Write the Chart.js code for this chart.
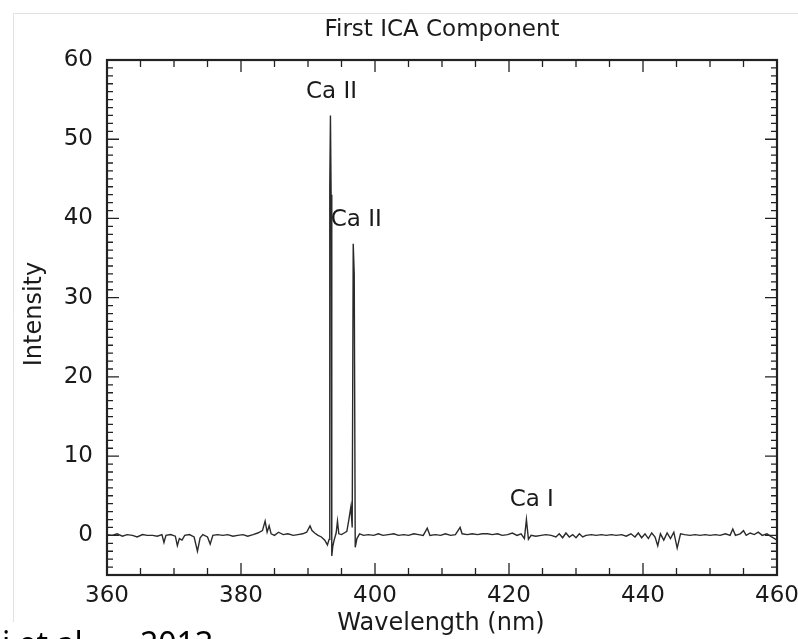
<!DOCTYPE html>
<html>
<head>
<meta charset="utf-8">
<script src="https://cdn.jsdelivr.net/npm/chart.js@4/dist/chart.umd.min.js"></script>
<style>
  html, body { margin: 0; padding: 0; background: #fff; }
  #wrap { width: 798px; height: 639px; }
</style>
</head>
<body>
<div id="wrap"><canvas id="ica"></canvas></div>
<script>
// wavelength (nm) and intensity
const wavelengths = [
  360.0, 360.8, 361.5, 362.3, 363.0, 363.8, 364.5, 365.3, 366.0, 366.8,
  367.5, 368.2, 368.5, 368.8, 369.5, 370.2, 370.5, 370.8, 371.2, 371.6,
  372.3, 373.0, 373.5, 373.9, 374.3, 375.0, 375.4, 375.8, 376.5, 377.3,
  378.0, 378.8, 379.5, 380.3, 381.0, 381.8, 382.5, 383.2, 383.6, 383.9,
  384.2, 384.5, 385.0, 385.6, 386.3, 387.0, 387.8, 388.5, 389.2, 389.8,
  390.3, 390.6, 391.0, 391.5, 392.0, 392.5, 392.9, 393.15, 393.25, 393.35,
  393.45, 393.55, 393.7, 393.9, 394.2, 394.4, 394.6, 395.0, 395.4, 395.8,
  396.1, 396.4, 396.6, 396.75, 396.9, 397.05, 397.3, 397.7, 398.3, 399.0,
  399.8, 400.5, 401.2, 402.0, 402.8, 403.5, 404.3, 405.0, 405.8, 406.5,
  407.2, 407.8, 408.2, 409.0, 409.8, 410.5, 411.3, 412.0, 412.7, 413.0,
  413.8, 414.5, 415.3, 416.0, 416.8, 417.5, 418.3, 419.0, 419.8, 420.5,
  421.2, 421.8, 422.3, 422.6, 422.9, 423.3, 424.0, 424.8, 425.5, 426.3,
  427.0, 427.5, 428.0, 428.5, 429.0, 429.5, 430.0, 430.5, 431.0, 431.5,
  432.3, 433.0, 433.8, 434.5, 435.3, 436.0, 436.8, 437.5, 438.2, 438.8,
  439.3, 439.8, 440.3, 440.8, 441.3, 441.8, 442.2, 442.6, 443.1, 443.6,
  444.1, 444.6, 445.1, 445.6, 446.2, 447.0, 447.8, 448.5, 449.3, 450.0,
  450.8, 451.5, 452.3, 453.0, 453.4, 453.8, 454.5, 455.0, 455.4, 456.0,
  456.6, 457.2, 457.8, 458.5, 459.2, 460.0
];
const intensity = [
  0.1, 0.0, 0.2, -0.1, 0.1, 0.0, -0.2, 0.1, 0.0, 0.0,
  -0.1, 0.1, -0.9, 0.0, 0.1, -0.1, -1.3, -0.4, -0.6, 0.0,
  0.1, -0.2, -2.0, -0.3, 0.1, -0.2, -1.1, 0.0, 0.1, 0.0,
  0.1, -0.1, 0.0, 0.1, -0.1, 0.1, 0.3, 0.6, 1.8, 0.4,
  1.2, 0.2, 0.0, 0.4, 0.1, 0.2, 0.0, 0.1, 0.2, 0.4,
  1.2, 0.6, 0.3, 0.0, -0.2, -0.6, -1.2, -0.5, 44.0, 53.0,
  43.0, -2.6, -1.4, -0.6, 0.3, 1.8, 0.2, 0.1, 0.3, 0.5,
  2.0, 3.6, 1.0, 36.8, 33.0, -1.5, -0.4, 0.2, 0.0, 0.1,
  0.0, 0.2, 0.0, 0.1, 0.2, 0.0, 0.1, 0.0, 0.2, 0.1,
  0.0, 0.9, 0.0, 0.1, 0.0, 0.2, 0.0, 0.1, 1.0, 0.2,
  0.1, 0.2, 0.1, 0.2, 0.2, 0.1, 0.2, 0.0, 0.1, 0.3,
  0.0, 0.2, -0.4, 2.0, -0.5, 0.0, -0.1, 0.0, 0.1, 0.0,
  -0.2, 0.2, -0.3, 0.3, -0.2, 0.1, -0.3, 0.2, -0.2, 0.0,
  0.1, 0.0, 0.1, 0.0, 0.1, 0.0, 0.1, -0.1, 0.2, -0.2,
  0.3, -0.3, 0.2, -0.4, 0.3, -0.2, -1.3, 0.2, -0.6, 0.3,
  -0.4, 0.4, -1.6, 0.2, 0.1, 0.0, 0.1, 0.0, 0.1, 0.0,
  0.1, 0.0, 0.2, 0.0, 0.8, 0.0, 0.2, 0.6, 0.0, 0.3,
  0.1, 0.4, 0.0, 0.2, -0.2, -0.6
];

const xTicks = [360, 380, 400, 420, 440, 460];
const yTicks = [0, 10, 20, 30, 40, 50, 60];

// line labels: text, wavelength, intensity
const lineLabels = ['Ca II', 'Ca II', 'Ca I'];
const labelWl = [393.5, 397.2, 423.4];
const labelInt = [56.0, 39.8, 4.4];

const FONT = '"DejaVu Sans", sans-serif';

// frame, inward ticks and all the loose text
const decorPlugin = {
  id: 'decor',
  afterDraw(chart) {
    const ctx = chart.ctx;
    const xs = chart.scales.x, ys = chart.scales.y;
    const a = chart.chartArea;
    ctx.save();

    // faint outer border of the figure
    ctx.strokeStyle = '#e2e2e2';
    ctx.lineWidth = 1;
    ctx.beginPath();
    ctx.moveTo(13.5, 622);
    ctx.lineTo(13.5, 13.5);
    ctx.lineTo(798, 13.5);
    ctx.stroke();

    // minor / major ticks on all four sides
    ctx.strokeStyle = '#222';
    ctx.lineWidth = 1.3;
    ctx.beginPath();
    for (let v = 360; v <= 460; v += 5) {
      const px = xs.getPixelForValue(v);
      const len = v % 20 === 0 ? 12 : 7;
      ctx.moveTo(px, a.bottom); ctx.lineTo(px, a.bottom - len);
      ctx.moveTo(px, a.top); ctx.lineTo(px, a.top + len);
    }
    for (let v = -5; v <= 60; v += 1) {
      const py = ys.getPixelForValue(v);
      const len = v % 10 === 0 ? 12 : 6;
      ctx.moveTo(a.left, py); ctx.lineTo(a.left + len, py);
      ctx.moveTo(a.right, py); ctx.lineTo(a.right - len, py);
    }
    ctx.stroke();

    ctx.lineWidth = 2.2;
    ctx.strokeRect(a.left, a.top, a.right - a.left, a.bottom - a.top);

    // texts
    ctx.fillStyle = '#1a1a1a';
    ctx.textAlign = 'center';
    ctx.textBaseline = 'middle';
    ctx.font = '23px ' + FONT;
    ctx.fillText('First ICA Component', (a.left + a.right) / 2, 30);
    lineLabels.forEach((t, i) => {
      ctx.fillText(t, xs.getPixelForValue(labelWl[i]), ys.getPixelForValue(labelInt[i]));
    });
    ctx.font = '24px ' + FONT;
    ctx.fillText('Wavelength (nm)', 441, 624);
    ctx.save();
    ctx.translate(35, 314);
    ctx.rotate(-Math.PI / 2);
    ctx.fillText('Intensity', 0, 0);
    ctx.restore();

    // caption cut off at the bottom of the picture
    ctx.textAlign = 'left';
    ctx.textBaseline = 'alphabetic';
    ctx.font = '32px "Noto Sans", sans-serif';
    ctx.fillStyle = '#000';
    ctx.fillText('i et al.', 2, 655);
    ctx.fillText('2013', 140, 655);
    ctx.restore();
  }
};

new Chart(document.getElementById('ica'), {
  type: 'line',
  data: {
    datasets: [{
      data: wavelengths.map((w, i) => ({ x: w, y: intensity[i] })),
      borderColor: '#2a2a2a',
      borderWidth: 1.4,
      pointRadius: 0,
      tension: 0,
      fill: false
    }]
  },
  options: {
    responsive: true,
    maintainAspectRatio: false,
    animation: false,
    layout: { padding: { top: 60, right: 21, left: 0, bottom: 0 } },
    plugins: { legend: { display: false }, tooltip: { enabled: false } },
    scales: {
      x: {
        type: 'linear',
        min: 360, max: 460,
        grid: { display: false, drawTicks: false },
        border: { display: false },
        afterBuildTicks: s => { s.ticks = xTicks.map(v => ({ value: v })); },
        afterFit: s => { s.height = 64; s.paddingLeft = 0; s.paddingRight = 0; },
        ticks: { padding: 7, color: '#1a1a1a', font: { family: FONT, size: 23 } }
      },
      y: {
        min: -5, max: 60,
        grid: { display: false, drawTicks: false },
        border: { display: false },
        afterBuildTicks: s => { s.ticks = yTicks.map(v => ({ value: v })); },
        afterFit: s => { s.width = 107; s.paddingTop = 0; s.paddingBottom = 0; },
        ticks: { padding: 14, color: '#1a1a1a', font: { family: FONT, size: 23 } }
      }
    }
  },
  plugins: [decorPlugin]
});
</script>
</body>
</html>
